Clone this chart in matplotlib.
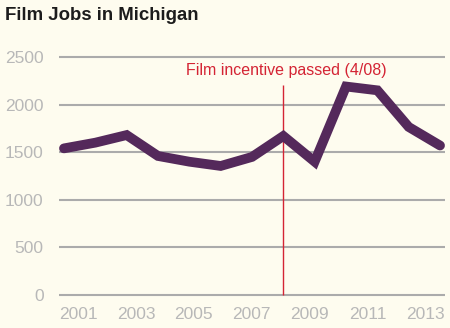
import numpy as np
import matplotlib
matplotlib.use("Agg")
import matplotlib.pyplot as plt

# film jobs per year
years = [2001, 2002, 2003, 2004, 2005, 2006, 2007, 2008, 2009, 2010, 2011, 2012, 2013]
jobs = [1540, 1600, 1680, 1460, 1400, 1355, 1450, 1670, 1400, 2190, 2150, 1765, 1570]

tick_labels = ["2001", "2003", "2005", "2007", "2009", "2011", "2013"]
y_ticks = [0, 500, 1000, 1500, 2000, 2500]

incentive_year = 2008
incentive_label = "Film incentive passed (4/08)"

bg = "#FEFCEF"
line_color = "#54295B"
grid_color = "#ABABAB"
red = "#D42434"
label_gray = "#B8B8B8"

plt.rcParams["font.family"] = ["Liberation Sans", "DejaVu Sans"]

fig = plt.figure(figsize=(4.5, 3.28), dpi=100, facecolor=bg)
ax = fig.add_axes([0.131, 0.095, 0.858, 0.737])
ax.set_facecolor(bg)

ax.set_xlim(2000.84, 2013.16)
ax.set_ylim(-20, 2520)

for v in y_ticks:
    ax.axhline(v, color=grid_color, lw=1.5, zorder=1)

ax.vlines(incentive_year, 0, 2210, color=red, lw=1.0, zorder=2)
ax.text(incentive_year + 0.1, 2360, incentive_label, color=red, fontsize=11.5,
        ha="center", va="center")

ax.plot(years, jobs, color=line_color, lw=7.0, solid_joinstyle="miter",
        solid_capstyle="round", zorder=3, clip_on=False)

ax.set_yticks(y_ticks)
ax.set_yticklabels([str(v) for v in y_ticks])
ax.set_xticks(np.linspace(2001.45, 2012.54, len(tick_labels)))
ax.set_xticklabels(tick_labels)
ax.tick_params(axis="both", length=0, labelsize=12.5, labelcolor=label_gray)
ax.tick_params(axis="y", pad=11)
ax.tick_params(axis="x", pad=7)

for s in ax.spines.values():
    s.set_visible(False)

fig.text(0.011, 0.952, "Film Jobs in Michigan", fontsize=13.4, fontweight="bold",
         color="#1C1C1C", ha="left", va="center")

fig.savefig("out.png", dpi=100, facecolor=bg)
